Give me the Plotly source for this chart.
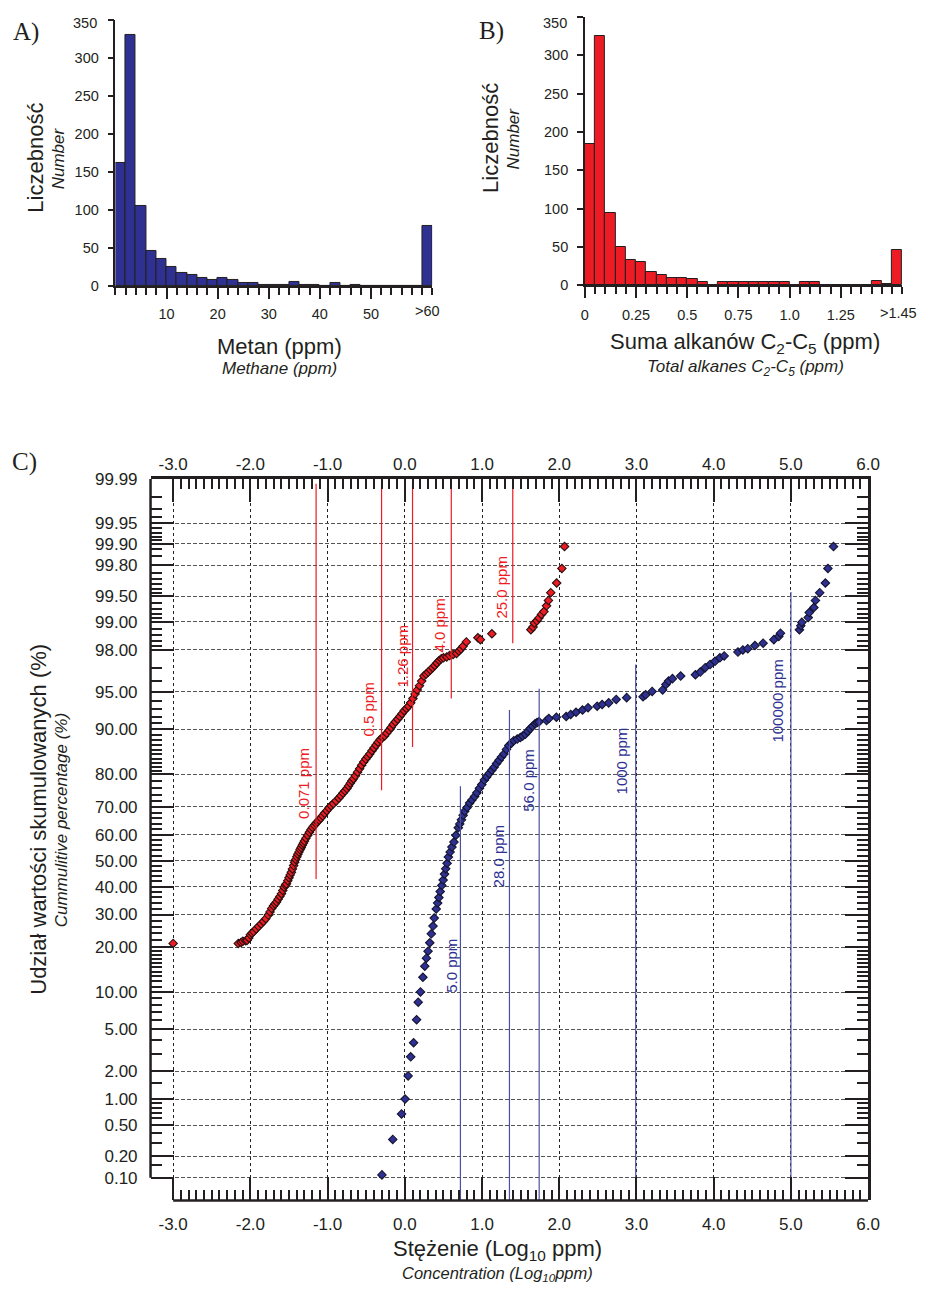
import math
import plotly.graph_objects as go

# the page body keeps its default 8px margin, so the figure is 16px smaller than the window
PAGE_W, PAGE_H, BODY_MARGIN = 936, 1298, 8
W, H = PAGE_W - 2 * BODY_MARGIN, PAGE_H - 2 * BODY_MARGIN
TXT = "#231f20"
FONT = "Liberation Sans, Arial, sans-serif"
SERIF = "Liberation Serif, Times New Roman, serif"
BLUE = "#2e3192"
RED = "#ed1c24"

# ---------------- DATA: A) methane histogram ----------------
methane_bin_left = [0, 2, 4, 6, 8, 10, 12, 14, 16, 18, 20, 22, 24, 26, 28, 30,
                    32, 34, 36, 38, 40, 42, 44, 46, 48, 50, 52, 54, 56, 58, 60]
methane_counts = [162, 330, 105, 46, 36, 25, 17, 15, 11, 9, 11, 9, 5, 5, 2, 2,
                  2, 6, 2, 2, 0, 5, 0, 2, 0, 0, 0, 0, 0, 0, 80]
methane_bin_width = 2
methane_tick_vals = [10, 20, 30, 40, 50, 61]
methane_tick_text = ["10", "20", "30", "40", "50", ">60"]

# ---------------- DATA: B) C2-C5 alkanes histogram ----------------
alkane_bin_left = [0.00, 0.05, 0.10, 0.15, 0.20, 0.25, 0.30, 0.35, 0.40, 0.45, 0.50,
                   0.55, 0.60, 0.65, 0.70, 0.75, 0.80, 0.85, 0.90, 0.95, 1.00,
                   1.05, 1.10, 1.15, 1.20, 1.25, 1.30, 1.35, 1.40, 1.45, 1.50]
alkane_counts = [185, 325, 95, 50, 33, 31, 18, 14, 10, 10, 8, 5, 1, 4, 4, 4,
                 4, 4, 4, 4, 0, 4, 4, 1, 1, 0, 1, 0, 6, 2, 46]
alkane_bin_width = 0.05
alkane_tick_vals = [0, 0.25, 0.5, 0.75, 1.0, 1.25, 1.53]
alkane_tick_text = ["0", "0.25", "0.5", "0.75", "1.0", "1.25", ">1.45"]

count_tick_vals = [0, 50, 100, 150, 200, 250, 300, 350]

# ---------------- DATA: C) cumulative probability plot ----------------
# alkanes C2-C5 (red): log10(ppm), cumulative %
alk_log = [-3.000,
           -2.156, -2.120, -2.097, -2.060, -2.042, -2.020, -2.000, -1.980, -1.957, -1.925,
           -1.894, -1.862, -1.830, -1.800, -1.767, -1.745, -1.724, -1.700, -1.680, -1.660,
           -1.640, -1.618, -1.597, -1.580, -1.562, -1.545, -1.533, -1.515, -1.500, -1.485,
           -1.469, -1.455, -1.440, -1.427, -1.412, -1.398, -1.385, -1.370, -1.356, -1.342,
           -1.328, -1.314, -1.300, -1.280, -1.258, -1.236, -1.215, -1.195, -1.172, -1.150,
           -1.130, -1.110, -1.088, -1.065, -1.040, -1.010, -0.983, -0.955, -0.925, -0.890,
           -0.855, -0.828, -0.800, -0.775, -0.750, -0.728, -0.706, -0.685, -0.665, -0.640,
           -0.612, -0.585, -0.559, -0.532, -0.505, -0.480, -0.453, -0.425, -0.400, -0.372,
           -0.347, -0.318, -0.290, -0.262, -0.235, -0.205, -0.178, -0.150, -0.122, -0.093,
           -0.065, -0.036, -0.008, 0.020, 0.048, 0.076, 0.105, 0.133, 0.161, 0.190,
           0.218, 0.247, 0.275, 0.303, 0.331, 0.360, 0.388, 0.416, 0.445, 0.473,
           0.501, 0.543, 0.580, 0.625, 0.670, 0.700, 0.728, 0.755, 0.797,
           0.946, 0.979, 1.127,
           1.632, 1.660, 1.678, 1.710, 1.738, 1.770, 1.801, 1.835, 1.860, 1.890,
           1.966, 2.034, 2.068]
alk_pct = [21.0,
           21.0, 21.3, 21.6, 21.8, 21.9, 22.6, 23.5, 24.0, 24.5, 25.3,
           26.1, 26.9, 27.7, 28.6, 29.8, 30.9, 32.1, 33.0, 33.7, 34.4,
           35.4, 36.4, 37.4, 38.6, 39.8, 40.6, 41.1, 42.3, 43.4, 44.5,
           45.5, 46.8, 48.1, 49.4, 50.5, 51.5, 52.5, 53.4, 54.3, 55.1,
           56.0, 56.8, 57.6, 58.7, 59.8, 60.9, 61.9, 62.7, 63.5, 64.2,
           64.8, 65.4, 66.1, 66.9, 67.8, 68.7, 69.6, 70.4, 71.1, 72.0,
           72.9, 73.7, 74.5, 75.2, 75.9, 76.7, 77.5, 78.2, 78.8, 79.6,
           80.6, 81.5, 82.4, 83.2, 83.9, 84.5, 85.1, 85.8, 86.4, 87.0,
           87.6, 88.1, 88.5, 88.8, 89.3, 89.8, 90.3, 90.8, 91.2, 91.6,
           92.0, 92.4, 92.8, 93.1, 93.4, 93.8, 94.3, 94.8, 95.2, 95.6,
           96.0, 96.4, 96.55, 96.7, 96.85, 97.0, 97.15, 97.3, 97.45, 97.55,
           97.6, 97.65, 97.72, 97.78, 97.83, 97.95, 98.05, 98.17, 98.35,
           98.51, 98.44, 98.65,
           98.78, 98.86, 98.97, 99.03, 99.10, 99.18, 99.24, 99.35, 99.44, 99.55,
           99.66, 99.78, 99.89]

# methane (blue): log10(ppm), cumulative %
met_log = [-0.296, -0.156, -0.042, 0.003, 0.043, 0.076, 0.114, 0.153, 0.174, 0.203,
           0.234, 0.259, 0.280, 0.301, 0.323, 0.343, 0.365, 0.381, 0.407, 0.425,
           0.441, 0.458, 0.479, 0.496, 0.514, 0.530, 0.547, 0.564, 0.587, 0.610,
           0.636, 0.661, 0.692, 0.712, 0.733, 0.755, 0.775, 0.806, 0.839, 0.870,
           0.903, 0.933, 0.966, 0.997, 1.030, 1.061, 1.093, 1.125, 1.157, 1.188,
           1.220, 1.252, 1.284, 1.316, 1.347, 1.379, 1.411, 1.456, 1.496, 1.527,
           1.560, 1.591, 1.623, 1.655, 1.687, 1.713, 1.738, 1.835, 1.865, 1.963,
           2.090, 2.148, 2.217, 2.301, 2.373, 2.491, 2.555, 2.640, 2.738, 2.873,
           3.085, 3.119, 3.203, 3.339, 3.381, 3.416, 3.466, 3.572, 3.763, 3.826,
           3.890, 3.953, 4.017, 4.080, 4.136, 4.314, 4.378, 4.441, 4.534, 4.640,
           4.779, 4.843, 4.865, 5.110, 5.128, 5.141, 5.224, 5.237, 5.297, 5.318,
           5.373, 5.446, 5.479, 5.551]
met_pct = [0.11, 0.33, 0.68, 1.01, 1.80, 2.80, 3.81, 6.06, 8.4, 10.05,
           12.8, 15.2, 17.1, 18.9, 21.2, 23.8, 26.2, 28.8, 31.9, 34.0,
           36.0, 38.2, 40.5, 42.5, 44.8, 46.9, 49.0, 51.4, 53.4, 55.3,
           57.2, 59.8, 62.6, 64.0, 65.5, 67.1, 68.5, 69.8, 71.3, 72.3,
           73.4, 74.6, 75.96, 77.1, 78.4, 79.3, 80.2, 81.1, 81.9, 82.8,
           83.6, 84.4, 85.1, 86.1, 86.9, 87.4, 87.9, 88.2, 88.5, 88.8,
           89.1, 89.6, 90.1, 90.5, 90.9, 91.1, 91.2, 91.4, 91.7, 91.9,
           92.0, 92.3, 92.6, 92.9, 93.2, 93.4, 93.6, 93.8, 94.2, 94.4,
           94.5, 94.7, 95.05, 95.2, 95.7, 96.0, 96.2, 96.4, 96.5, 96.7,
           97.0, 97.2, 97.4, 97.6, 97.7, 97.9, 98.0, 98.06, 98.2, 98.3,
           98.44, 98.56, 98.67, 98.78, 98.90, 98.99, 99.11, 99.22, 99.32, 99.44,
           99.55, 99.66, 99.78, 99.89]

# threshold lines (log10 ppm) with their vertical extent (cumulative %)
red_line_log = [-1.149, -0.301, 0.100, 0.602, 1.398]
red_line_top_pct = [99.988, 99.988, 99.988, 99.988, 99.988]
red_line_bottom_pct = [42.9, 75.4, 86.6, 94.3, 98.3]
red_labels = ["0.071 ppm", "0.5 ppm", "1.26 ppm", "4.0 ppm", "25.0 ppm"]
red_label_log = [-1.314, -0.475, -0.029, 0.454, 1.256]
red_label_pct = [77.4, 92.98, 97.7, 98.9, 99.62]

blue_line_log = [0.72, 1.355, 1.74, 2.99, 5.0]
blue_line_top_pct = [76.6, 92.9, 95.3, 97.2, 99.56]
blue_labels = ["5.0 ppm", "28.0 ppm", "56.0 ppm", "1000 ppm", "100000 ppm"]
blue_label_log = [0.594, 1.218, 1.599, 2.808, 4.832]
blue_label_pct = [15.2, 52.0, 78.3, 83.5, 94.06]

prob_major = [0.10, 0.20, 0.50, 1.00, 2.00, 5.00, 10.00, 20.00, 30.00, 40.00, 50.00,
              60.00, 70.00, 80.00, 90.00, 95.00, 98.00, 99.00, 99.50, 99.80, 99.90,
              99.95, 99.99]
prob_minor = [0.15, 0.3, 0.4, 0.6, 0.7, 0.8, 0.9, 1.5, 3, 4, 6, 7, 8, 9,
              11, 12, 13, 14, 15, 16, 17, 18, 19, 22, 24, 26, 28, 32, 34, 36, 38,
              42, 44, 46, 48, 52, 54, 56, 58, 62, 64, 66, 68, 72, 74, 76, 78,
              81, 82, 83, 84, 85, 86, 87, 88, 89, 91, 92, 93, 94, 96, 97,
              98.2, 98.4, 98.6, 98.8, 99.1, 99.2, 99.3, 99.4, 99.55, 99.6, 99.65,
              99.7, 99.75, 99.85, 99.88, 99.91, 99.92, 99.93, 99.94, 99.96, 99.97, 99.98]
log_major = [-3, -2, -1, 0, 1, 2, 3, 4, 5, 6]
log_major_text = ["-3.0", "-2.0", "-1.0", "0.0", "1.0", "2.0", "3.0", "4.0", "5.0", "6.0"]


# ---------------- helpers ----------------
def probit(pct):
    p = pct / 100.0
    lo, hi = -10.0, 10.0
    for _ in range(80):
        mid = 0.5 * (lo + hi)
        if 0.5 * (1.0 + math.erf(mid / math.sqrt(2.0))) < p:
            lo = mid
        else:
            hi = mid
    return 0.5 * (lo + hi)


def fx(px):
    """window pixel x -> paper fraction"""
    return (px - BODY_MARGIN) / W


def fy(py):
    """window pixel y -> paper fraction"""
    return 1.0 - (py - BODY_MARGIN) / H


# ---------------- geometry (window pixels) ----------------
A_X0, A_X1, A_Y0, A_Y1 = 113.3, 435.7, 281.0, 11.0
B_X0, B_X1, B_Y0, B_Y1 = 591.0, 914.0, 280.0, 8.0
C_LEFT, C_XM3, C_RIGHT = 149.0, 172.0, 879.3
C_TOP, C_P01, C_BOT = 476.3, 1184.4, 1207.3
px_per_log = (C_RIGHT - C_XM3) / (log_major[-1] - log_major[0])
x_lo = log_major[0] - (C_XM3 - C_LEFT) / px_per_log
z_top = probit(prob_major[-1])
z_p01 = probit(prob_major[0])
px_per_z = (C_P01 - C_TOP) / (z_top - z_p01)
z_lo = z_top - (C_BOT - C_TOP) / px_per_z

fig = go.Figure()

fig.add_trace(go.Bar(
    x=[l + methane_bin_width / 2 for l in methane_bin_left], y=methane_counts,
    width=methane_bin_width, marker=dict(color=BLUE, line=dict(color=TXT, width=1)),
    xaxis="x", yaxis="y", hoverinfo="skip"))
fig.add_trace(go.Bar(
    x=[l + alkane_bin_width / 2 for l in alkane_bin_left], y=alkane_counts,
    width=alkane_bin_width, marker=dict(color=RED, line=dict(color=TXT, width=1)),
    xaxis="x2", yaxis="y2", hoverinfo="skip"))

fig.add_trace(go.Scatter(
    x=alk_log, y=[probit(p) for p in alk_pct], mode="markers",
    marker=dict(symbol="diamond", size=6.5, color=RED, line=dict(color="#2a1010", width=1.1)),
    xaxis="x3", yaxis="y3", hoverinfo="skip"))
fig.add_trace(go.Scatter(
    x=met_log, y=[probit(p) for p in met_pct], mode="markers",
    marker=dict(symbol="diamond", size=6.5, color=BLUE, line=dict(color="#14142e", width=1.1)),
    xaxis="x3", yaxis="y3", hoverinfo="skip"))

rx, ry = [], []
for xv, t, b in zip(red_line_log, red_line_top_pct, red_line_bottom_pct):
    rx += [xv, xv, None]
    ry += [probit(b), probit(t), None]
fig.add_trace(go.Scatter(x=rx, y=ry, mode="lines", line=dict(color=RED, width=1.2),
                         xaxis="x3", yaxis="y3", hoverinfo="skip"))
bx, by = [], []
for xv, t in zip(blue_line_log, blue_line_top_pct):
    bx += [xv, xv, None]
    by += [z_lo, probit(t), None]
fig.add_trace(go.Scatter(x=bx, y=by, mode="lines", line=dict(color="#4b50a3", width=1.2),
                         xaxis="x3", yaxis="y3", hoverinfo="skip"))
fig.add_trace(go.Scatter(x=[None], y=[None], xaxis="x4", yaxis="y4", hoverinfo="skip"))

annotations = []


def ann(text, px, py, size, angle=0, family=FONT, color=TXT, xanchor="center"):
    annotations.append(dict(text=text, x=fx(px), y=fy(py), xref="paper", yref="paper",
                            showarrow=False, textangle=angle, xanchor=xanchor,
                            yanchor="middle", font=dict(family=family, size=size, color=color)))


for xv, pv, t in zip(red_label_log, red_label_pct, red_labels):
    annotations.append(dict(text=t, x=xv, y=probit(pv), xref="x3", yref="y3", showarrow=False,
                            textangle=-90, xanchor="center", yanchor="middle",
                            font=dict(family=FONT, size=15, color=RED)))
for xv, pv, t in zip(blue_label_log, blue_label_pct, blue_labels):
    annotations.append(dict(text=t, x=xv, y=probit(pv), xref="x3", yref="y3", showarrow=False,
                            textangle=-90, xanchor="center", yanchor="middle",
                            font=dict(family=FONT, size=15, color=BLUE)))


def split_ticks(vals, texts, edges, xref, label_py):
    ax_v, ax_t = [], []
    for v, t in zip(vals, texts):
        if any(abs(v - e) < 1e-9 for e in edges):
            ax_v.append(v)
            ax_t.append(t)
        else:
            annotations.append(dict(text=t, x=v, y=fy(label_py), xref=xref, yref="paper",
                                    showarrow=False, xanchor="center", yanchor="middle",
                                    font=dict(family=FONT, size=14.5, color=TXT)))
    return ax_v, ax_t


A_edges = methane_bin_left + [methane_bin_left[-1] + methane_bin_width]
B_edges = alkane_bin_left + [alkane_bin_left[-1] + alkane_bin_width]
A_tv, A_tt = split_ticks(methane_tick_vals, methane_tick_text, A_edges, "x", 306)
B_tv, B_tt = split_ticks(alkane_tick_vals, alkane_tick_text, B_edges, "x2", 308)

# top count label sits at the very top edge: draw it slightly lower as an annotation
count_top = count_tick_vals[-1]
count_text = [str(v) if v != count_top else "" for v in count_tick_vals]
ann(str(count_top), 96.5, 14, 14.5, xanchor="right")
ann(str(count_top), 574.5, 14, 14.5, xanchor="right")

ann("A)", 22, 23, 25, family=SERIF)
ann("B)", 496, 22, 25, family=SERIF)
ann("C)", 21, 459, 25, family=SERIF)
ann("Liczebność", 32, 151, 22, angle=-90)
ann("<i>Number</i>", 55, 151, 17, angle=-90)
ann("Metan (ppm)", 280, 342, 22)
ann("<i>Methane (ppm)</i>", 280, 364, 17)
ann("Liczebność", 495, 131, 22, angle=-90)
ann("<i>Number</i>", 518, 131, 17, angle=-90)
ann("Suma alkanów C<sub>2</sub>-C<sub>5</sub> (ppm)", 754, 338, 22)
ann("<i>Total alkanes C<sub>2</sub>-C<sub>5</sub> (ppm)</i>", 754, 364, 17)
ann("Udział wartości skumulowanych (%)", 35, 821, 22, angle=-90)
ann("<i>Cummulitive percentage (%)</i>", 58, 822, 17, angle=-90)
ann("Stężenie (Log<sub>10</sub> ppm)", 502, 1258, 22)
ann("<i>Concentration (Log<sub>10</sub>ppm)</i>", 502, 1282, 16.5)

shapes = [
    dict(type="line", xref="paper", yref="y3", x0=fx(C_LEFT), x1=fx(C_LEFT),
         y0=z_p01, y1=z_top, line=dict(color=TXT, width=2.5)),
    dict(type="line", xref="x3", yref="paper", x0=log_major[0], x1=log_major[-1],
         y0=fy(C_BOT), y1=fy(C_BOT), line=dict(color=TXT, width=2.5)),
]

x_minor = [round(log_major[0] + i * 0.1, 1) for i in range(1, 90) if i % 10 != 0]

hist_common = dict(showgrid=False, zeroline=False, fixedrange=True,
                   showline=True, linecolor=TXT, linewidth=1.5,
                   tickcolor=TXT, tickwidth=1.5, tickfont=dict(family=FONT, size=14.5, color=TXT))

ytick_common = dict(tickmode="array", tickvals=[probit(p) for p in prob_major],
                    ticks="inside", ticklen=23, tickwidth=2, tickcolor=TXT,
                    minor=dict(tickmode="array", tickvals=[probit(p) for p in prob_minor],
                               ticks="inside", ticklen=11, tickwidth=1.5, tickcolor=TXT,
                               showgrid=False),
                    range=[z_lo, z_top], zeroline=False, fixedrange=True)
xtick_common = dict(tickmode="array", tickvals=log_major, ticktext=log_major_text,
                    ticks="inside", ticklen=23, tickwidth=2, tickcolor=TXT,
                    minor=dict(tickmode="array", tickvals=x_minor, ticks="inside",
                               ticklen=10, tickwidth=1.5, tickcolor=TXT, showgrid=False),
                    range=[x_lo, log_major[-1]], zeroline=False, fixedrange=True,
                    tickfont=dict(family=FONT, size=17, color=TXT))

fig.update_layout(
    width=W, height=H, autosize=False, margin=dict(l=0, r=0, t=0, b=0, pad=0),
    paper_bgcolor="white", plot_bgcolor="rgba(0,0,0,0)", showlegend=False,
    bargap=0, font=dict(family=FONT, color=TXT, size=14.5),
    xaxis=dict(domain=[fx(A_X0), fx(A_X1)], range=[A_edges[0], A_edges[-1]], anchor="y",
               tickmode="array", tickvals=A_tv, ticktext=A_tt, ticks="outside", ticklen=11,
               minor=dict(ticks="outside", ticklen=7, tickwidth=1.5, tickcolor=TXT,
                          tick0=A_edges[0], dtick=methane_bin_width),
               ticklabelstandoff=2, **hist_common),
    yaxis=dict(domain=[fy(A_Y0), fy(A_Y1)], range=[0, count_top], anchor="x",
               tickmode="array", tickvals=count_tick_vals, ticktext=count_text,
               ticks="outside", ticklen=6, ticklabelstandoff=6, **hist_common),
    xaxis2=dict(domain=[fx(B_X0), fx(B_X1)], range=[B_edges[0], B_edges[-1]], anchor="y2",
                tickmode="array", tickvals=B_tv, ticktext=B_tt, ticks="outside", ticklen=11,
                minor=dict(ticks="outside", ticklen=7, tickwidth=1.5, tickcolor=TXT,
                           tick0=B_edges[0], dtick=alkane_bin_width),
                ticklabelstandoff=4, **hist_common),
    yaxis2=dict(domain=[fy(B_Y0), min(1.0, fy(B_Y1))], range=[0, count_top], anchor="x2",
                tickmode="array", tickvals=count_tick_vals, ticktext=count_text,
                ticks="outside", ticklen=6, ticklabelstandoff=6, **hist_common),
    xaxis3=dict(domain=[fx(C_LEFT), fx(C_RIGHT)], anchor="y3", side="bottom",
                showline=False, showgrid=True, gridcolor=TXT, gridwidth=1, griddash="3px,3px",
                ticklabelstandoff=12, **xtick_common),
    yaxis3=dict(domain=[fy(C_BOT), fy(C_TOP)], anchor="x3", side="left",
                showline=False, showgrid=True, gridcolor="#555555", gridwidth=1,
                griddash="4px,2px", ticktext=["%.2f" % p for p in prob_major],
                ticklabelstandoff=12, tickfont=dict(family=FONT, size=17, color=TXT),
                **ytick_common),
    xaxis4=dict(overlaying="x3", anchor="y3", side="top", showline=True, linecolor=TXT,
                linewidth=2.5, showgrid=False, ticklabelstandoff=0, **xtick_common),
    yaxis4=dict(overlaying="y3", anchor="x3", side="right", showline=True, linecolor=TXT,
                linewidth=2.5, showgrid=False, showticklabels=False, **ytick_common),
    annotations=annotations,
    shapes=shapes,
)

fig.write_html("out.html", config={"displayModeBar": False})
